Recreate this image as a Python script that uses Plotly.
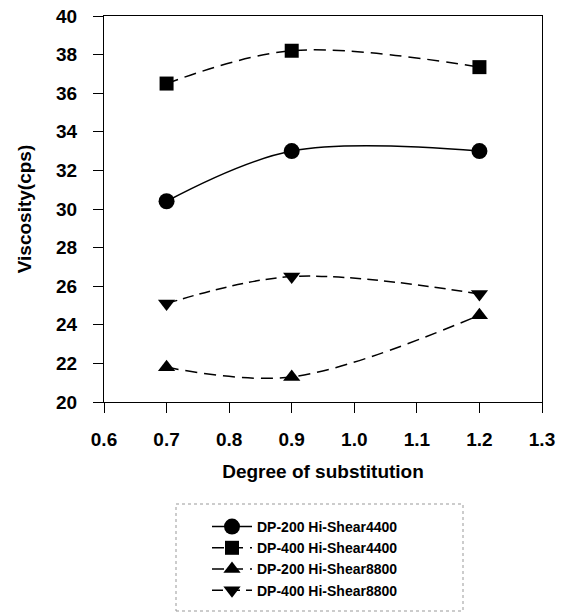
import plotly.graph_objects as go

# Data
x_ds = [0.7, 0.9, 1.2]
dp200_4400 = [30.4, 33.0, 33.0]
dp400_4400 = [36.5, 38.2, 37.35]
dp200_8800 = [21.8, 21.3, 24.5]
dp400_8800 = [25.1, 26.5, 25.6]

series_names = ["DP-200 Hi-Shear4400", "DP-400 Hi-Shear4400",
                "DP-200 Hi-Shear8800", "DP-400 Hi-Shear8800"]

W, H = 570, 613
L, R, T, B = 104, 28, 16, 211
pw, ph = W - L - R, H - T - B

def px_x(p):
    return (p - L) / pw

def px_y(p):
    return (H - B - p) / ph

FONT = "Liberation Sans, Arial, sans-serif"

fig = go.Figure()
styles = [
    (dp200_4400, "circle", "solid", 16),
    (dp400_4400, "square", "12px,7px", 14),
    (dp200_8800, "triangle-up", "12px,7px", 15),
    (dp400_8800, "triangle-down", "11px,6px", 15),
]
for name, (ys, sym, dash, ms) in zip(series_names, styles):
    fig.add_trace(go.Scatter(
        x=x_ds, y=ys, name=name, mode="lines+markers",
        line=dict(color="black", width=1.5, dash=dash, shape="spline", smoothing=1.0),
        marker=dict(symbol=sym, size=ms, color="black"),
    ))

axis_common = dict(
    showgrid=False, zeroline=False, showline=True, linecolor="black", linewidth=1,
    mirror=True, ticks="outside", ticklen=10, tickwidth=1, tickcolor="black",
    automargin=False, ticklabeloverflow="allow",
    tickfont=dict(family=FONT, size=19, color="black", weight="bold"),
)
fig.update_xaxes(range=[0.6, 1.3], dtick=0.1, tick0=0.6, tickformat=".1f",
                 ticklabelstandoff=10,
                 title=dict(text="Degree of substitution",
                            font=dict(family=FONT, size=19, color="black", weight="bold"),
                            standoff=15),
                 **axis_common)
fig.update_yaxes(range=[20, 40], dtick=2, tick0=20,
                 ticklabelstandoff=12,
                 title=dict(text="Viscosity(cps)",
                            font=dict(family=FONT, size=19, color="black", weight="bold"),
                            standoff=19),
                 **axis_common)

fig.add_shape(type="rect", xref="paper", yref="paper",
              x0=px_x(176), x1=px_x(463), y0=px_y(611), y1=px_y(504),
              line=dict(color="#999999", width=1, dash="dot"))

fig.update_layout(
    width=W, height=H,
    margin=dict(l=L, r=R, t=T, b=B, autoexpand=False),
    paper_bgcolor="white", plot_bgcolor="white",
    showlegend=True,
    legend=dict(x=px_x(207), y=px_y(511), xanchor="left", yanchor="top",
                font=dict(family=FONT, size=14, color="black", weight="bold"),
                bgcolor="rgba(0,0,0,0)", borderwidth=0, itemwidth=40,
                tracegroupgap=0),
    font=dict(family=FONT, color="black"),
)

fig.write_html("out.html", config={"displayModeBar": False},
               post_script="document.body.style.margin='0px';document.body.style.padding='0px';")
